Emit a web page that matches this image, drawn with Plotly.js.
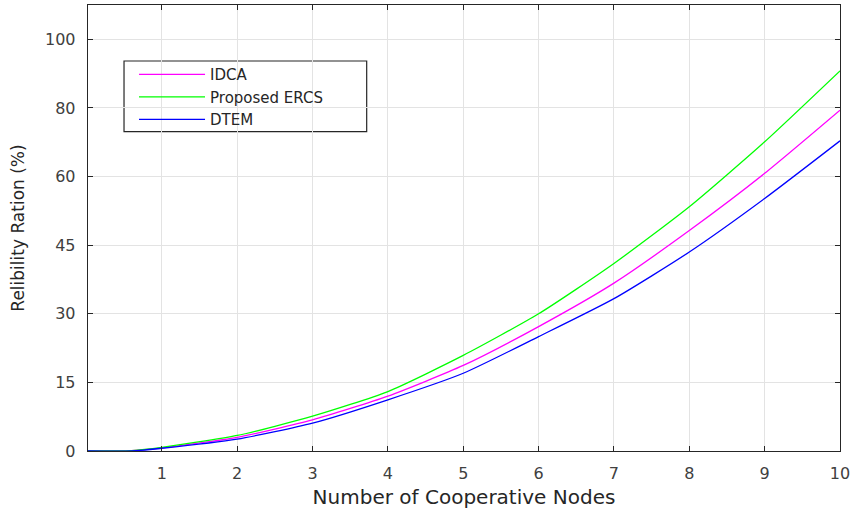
<!DOCTYPE html>
<html>
<head>
<meta charset="utf-8">
<script src="https://cdn.plot.ly/plotly-3.0.1.min.js"></script>
<style>html,body{margin:0;padding:0;background:#fff;}#chart{width:855px;height:512px;}</style>
</head>
<body>
<div id="chart"></div>
<script>
// Number of cooperative nodes (x)
const nodes = [0, 0.6, 1, 2, 3, 4, 5, 6, 7, 8, 9, 10];
// Values in the axis' underlying units (gridline every 15 units)
const idca = [0, 0.1, 0.7, 3.0, 6.8, 12.0, 18.7, 27.2, 36.7, 48.2, 60.7, 74.5];
const ercs = [0, 0.1, 0.8, 3.4, 7.6, 13.0, 20.9, 30.0, 41.0, 53.4, 67.6, 83.1];
const dtem = [0, 0.0, 0.6, 2.6, 6.1, 11.2, 17.0, 25.0, 33.3, 43.5, 55.2, 67.8];
// Tick positions and the labels printed at them
const yTickVals = [0, 15, 30, 45, 60, 75, 90];
const yTickText = ['0', '15', '30', '45', '60', '80', '100'];
const xTickVals = [1, 2, 3, 4, 5, 6, 7, 8, 9, 10];

const seriesNames = ['IDCA', 'Proposed ERCS', 'DTEM'];
const seriesColors = ['#ff00ff', '#00ff00', '#0000ff'];
const seriesData = [idca, ercs, dtem];

const traces = seriesData.map((ys, i) => ({
  x: nodes, y: ys, type: 'scatter', mode: 'lines', name: seriesNames[i],
  line: {color: seriesColors[i], width: 1.3, shape: 'spline', smoothing: 0.6}
}));

const axisCommon = {
  showline: true, mirror: 'allticks', linecolor: '#262626', linewidth: 1.3,
  ticks: 'inside', ticklen: 5, tickwidth: 1, tickcolor: '#262626',
  showgrid: true, gridcolor: '#e3e3e3', gridwidth: 1, zeroline: false,
  tickfont: {family: 'DejaVu Sans', size: 16, color: '#404040'}
};

const layout = {
  width: 855, height: 512,
  margin: {l: 88, r: 15, t: 5, b: 61},
  paper_bgcolor: '#ffffff', plot_bgcolor: '#ffffff',
  showlegend: true,
  xaxis: Object.assign({}, axisCommon, {
    range: [0.02, 10], tickvals: xTickVals, ticklabelstandoff: 7,
    title: {text: 'Number of Cooperative Nodes', standoff: 8,
      font: {family: 'DejaVu Sans', size: 20, color: '#262626'}}
  }),
  yaxis: Object.assign({}, axisCommon, {
    range: [0, 97.5], tickvals: yTickVals, ticktext: yTickText, ticklabelstandoff: 8,
    title: {text: 'Relibility Ration (%)', standoff: 16,
      font: {family: 'DejaVu Sans', size: 17, color: '#262626'}}
  }),
  legend: {
    x: 0.0612, y: 0.881, xanchor: 'left', yanchor: 'top',
    bgcolor: 'rgba(0,0,0,0)', borderwidth: 0, itemwidth: 66,
    font: {family: 'DejaVu Sans', size: 15, color: '#262626'},
    tracegroupgap: 0
  },
  shapes: [{
    type: 'rect', xref: 'paper', yref: 'paper', layer: 'between',
    x0: 0.0479, x1: 0.3706, y0: 0.7159, y1: 0.8744,
    line: {color: '#262626', width: 1.2}, fillcolor: '#ffffff'
  }]
};

Plotly.newPlot('chart', traces, layout, {displayModeBar: false, staticPlot: true});
</script>
</body>
</html>
